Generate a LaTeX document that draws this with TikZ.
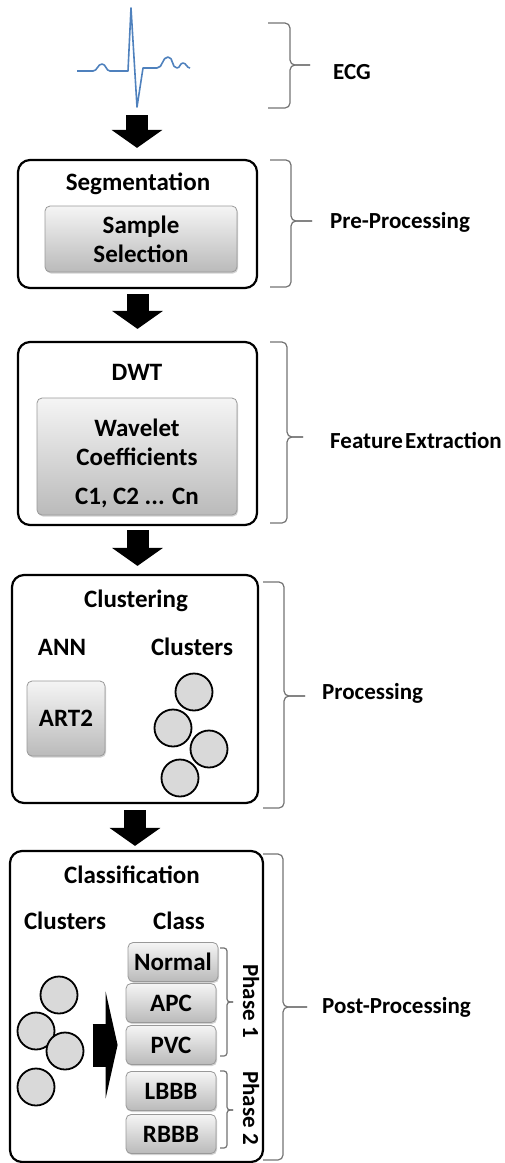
\documentclass[tikz,border=0pt]{standalone}
\usepackage{fontspec}
\setmainfont{Carlito}
\usetikzlibrary{
    arrows.meta,
    positioning,
    fit,
    shadows
}

\begin{document}
\begin{tikzpicture}[
    x=1pt, y=-1pt,
    font=\fontsize{25}{29}\selectfont\bfseries,
    stage/.style={
        draw,
        line width=2.2pt,
        rounded corners=12pt,
        fill=white,
        inner sep=0pt
    },
    grad/.style={
        draw=black!40,
        line width=0.8pt,
        rounded corners=5pt,
        top color=black!4,
        bottom color=black!27,
        align=center,
        inner sep=0pt,
        drop shadow={opacity=0.35, shadow xshift=1pt, shadow yshift=-1.5pt}
    },
    head/.style={anchor=base, inner sep=0pt},
    side/.style={anchor=base west, inner sep=0pt,
        font=\fontsize{23}{28}\selectfont\bfseries},
    clus/.style={circle, draw, line width=1.8pt, fill=black!15,
        minimum size=37pt, inner sep=0pt},
    kind/.style={grad, minimum width=90pt, minimum height=39pt},
    flow/.style={line width=22pt, -{Triangle[length=18pt, width=50pt]}},
    push/.style={line width=43pt, -{Triangle[length=12pt, width=107pt]},
        shorten <=8pt, shorten >=8pt},
    curly/.style={draw=black!55, line width=1.2pt, rounded corners=5pt},
    ecgline/.style={line width=1.6pt, line join=round,
        color={rgb,255:red,79;green,129;blue,189}}
]

\useasboundingbox (0,0) rectangle (504,1163);

% brace: [options]{x ends}{x back}{x tip}{top}{middle}{bottom}
\newcommand{\brc}[7][]{%
    \draw[curly, #1] (#2,#5) -- (#3,#5) -- (#3,#6) -- (#4,#6);
    \draw[curly, #1] (#2,#7) -- (#3,#7) -- (#3,#6) -- (#4,#6);
}

% ============================================================
% ECG
% ============================================================

\draw[ecgline] (77,71) -- (93,71) to[out=0,in=180] (102,64)
    to[out=0,in=180] (110,71) -- (128,71) -- (131,8) -- (137,107)
    -- (143,68) -- (157,68) to[out=0,in=180] (168,57)
    to[out=0,in=180] (177,68) to[out=0,in=180] (183,63)
    to[out=0,in=180] (190,68);
\coordinate (ecgend) at (137,107);

% ============================================================
% STAGES
% ============================================================

\node[stage, minimum width=239pt, minimum height=128pt] (seg) at (137.5,224) {};
\node[head] (segt) at (138,190) {Segmentation};
\node[grad, minimum width=192pt, minimum height=66pt] (sample) at (141,239)
    {Sample\\Selection};

\node[stage, minimum width=239pt, minimum height=183pt] (dwt) at (137.5,433.5) {};
\node[head] (dwtt) at (137,380) {DWT};
\node[grad, minimum width=200pt, minimum height=117pt] (coef) at (137,456.5) {};
\node[align=center, inner sep=0pt] (coeft) at (137,463)
    {Wavelet\\Coefficients\\[10pt]C1, C2 ... Cn};

\node[stage, minimum width=246pt, minimum height=228pt] (clu) at (135,689) {};
\node[head] (clut) at (136,607) {Clustering};
\node[head] (ann) at (62,655) {ANN};
\node[head] (cluh) at (192,655) {Clusters};
\node[grad, minimum width=78pt, minimum height=75pt] (art) at (66,718.5) {ART2};
\node[clus] (c1) at (194,692) {};
\node[clus] (c2) at (173,728) {};
\node[clus] (c3) at (209,749) {};
\node[clus] (c4) at (180,778) {};

\node[stage, minimum width=253pt, minimum height=311pt] (cls) at (136.5,1006.5) {};
\node[head] (clst) at (132,883) {Classification};
\node[head] (grph) at (65,929) {Clusters};
\node[head] (kindh) at (179,929) {Class};
\node[clus] (d1) at (59,995) {};
\node[clus] (d2) at (36,1031) {};
\node[clus] (d3) at (65,1051) {};
\node[clus] (d4) at (36,1087) {};
\node[fit=(d1) (d2) (d3) (d4), inner sep=0pt] (grp) {};

\foreach \n/\t/\x/\y in {nor/Normal/173/962, apc/APC/171/1003, pvc/PVC/171/1045,
    lbbb/LBBB/171/1091, rbbb/RBBB/171/1134} {
    \node[kind] (\n) at (\x,\y) {\t};
}

\draw[push] (grp.east |- pvc.west) -- (pvc.west);

\brc[rounded corners=3pt]{220}{227}{233}{948}{1002}{1056}
\brc[rounded corners=3pt]{220}{227}{233}{1071}{1110}{1148}
\node[rotate=-90, inner sep=0pt, font=\fontsize{23}{28}\selectfont\bfseries]
    (ph1) at (251,1001) {Phase 1};
\node[rotate=-90, inner sep=0pt, font=\fontsize{23}{28}\selectfont\bfseries]
    (ph2) at (251,1108) {Phase 2};

% ============================================================
% ARROWS
% ============================================================

\draw[flow, shorten <=8pt, shorten >=11pt] (ecgend) -- (ecgend |- seg.north);
\foreach \a/\b/\s/\e in {seg/dwt/5/12, dwt/clu/4/8, clu/cls/6/4} {
    \draw[flow, shorten <=\s pt, shorten >=\e pt] (\a.south) -- (\a.south |- \b.north);
}

% ============================================================
% PHASES OF THE METHOD
% ============================================================

\brc{268}{290}{310}{23}{65}{108}
\brc{270}{291}{312}{160}{221}{287}
\brc{270}{287}{303}{342}{437}{523}
\brc{263}{284}{305}{582}{696}{808}
\brc{263}{283}{307}{854}{1007}{1160}

\node[side] (ecg) at (333,79) {ECG};
\node[side] (pre) at (330,228) {Pre-Processing};
\node[side] (fex) at (330,448) {Feature\hspace{0.1em}Extraction};
\node[side] (proc) at (322,699) {Processing};
\node[side] (post) at (322,1013) {Post-Processing};

\end{tikzpicture}
\end{document}
